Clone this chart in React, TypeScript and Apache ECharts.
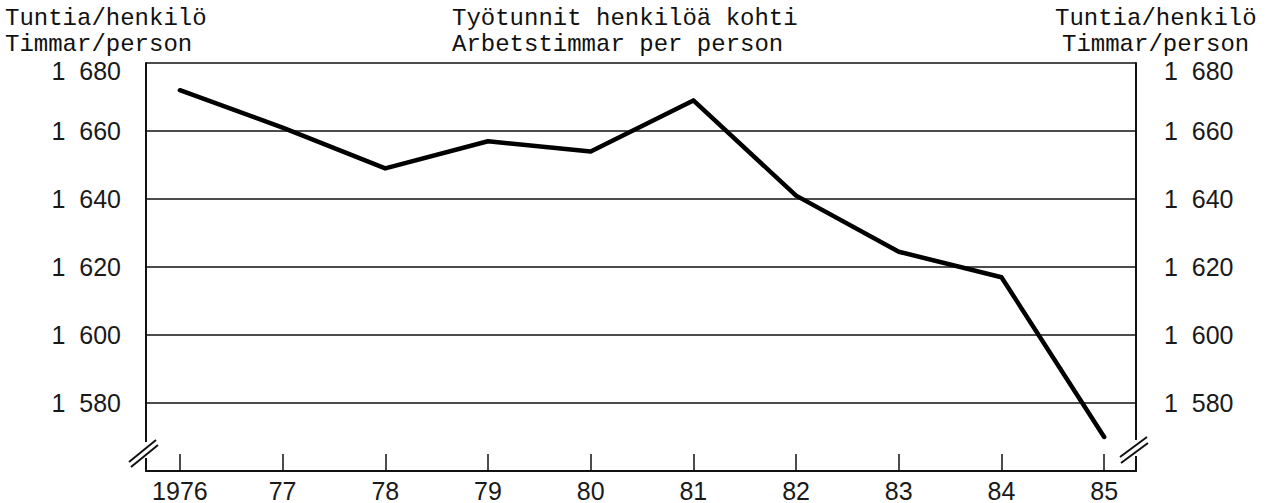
import React, { useEffect, useRef } from "react";
import * as echarts from "echarts";

const years = [1976, 1977, 1978, 1979, 1980, 1981, 1982, 1983, 1984, 1985];
const yearLabels = ["1976", "77", "78", "79", "80", "81", "82", "83", "84", "85"];
const hoursPerPerson = [1672, 1661, 1649, 1657, 1654, 1669, 1641, 1624.5, 1617, 1570];
const yTicks = [1580, 1600, 1620, 1640, 1660, 1680];

const leftTitle = ["Tuntia/henkilö", "Timmar/person"];
const centerTitle = ["Työtunnit henkilöä kohti", "Arbetstimmar per person"];
const rightTitle = ["Tuntia/henkilö", "Timmar/person"];

const MONO = '24px "Liberation Mono", "DejaVu Sans Mono", monospace';
const INK = "#111";

function fmtY(v: number) {
  if (!yTicks.includes(v)) return "";
  const s = String(v);
  const t = s.slice(0, 1) + "  " + s.slice(1);
  return v === 1680 ? "{top|" + t + "}" : "{n|" + t + "}";
}

const labelRich = {
  n: { fontFamily: '"Liberation Sans", Arial, sans-serif', fontSize: 25, color: "#1a1a1a" },
  top: {
    fontFamily: '"Liberation Sans", Arial, sans-serif',
    fontSize: 25,
    color: "#1a1a1a",
    padding: [16, 0, 0, 0],
  },
};

export default function App() {
  const ref = useRef<HTMLDivElement>(null);
  useEffect(() => {
    if (!ref.current) return;
    const chart = echarts.init(ref.current, null, { renderer: "svg" });
    const txt = (text: string, x: number, y: number) => ({
      type: "text",
      z: 100,
      style: { text, x, y, font: MONO, fill: INK, verticalAlign: "middle" },
    });
    const ln = (x1: number, y1: number, x2: number, y2: number, w = 2) => ({
      type: "line",
      z: 101,
      shape: { x1, y1, x2, y2 },
      style: { stroke: INK, lineWidth: w },
    });
    const yAxisCommon = {
      type: "value",
      min: 1560,
      max: 1680,
      interval: 20,
      axisLine: { show: true, lineStyle: { color: INK, width: 2 } },
      axisTick: { show: false },
    };
    chart.setOption({
      animation: false,
      backgroundColor: "#fff",
      grid: { left: 146, right: 137, top: 63, bottom: 32, containLabel: false, outerBoundsMode: "none" },
      xAxis: {
        type: "value",
        min: 1975.67,
        max: 1985.31,
        axisLine: { show: true, onZero: false, lineStyle: { color: INK, width: 2 } },
        axisTick: {
          show: true,
          inside: true,
          length: 17,
          customValues: years,
          lineStyle: { color: INK, width: 1.5 },
        },
        axisLabel: {
          show: true,
          customValues: years,
          margin: 7,
          fontFamily: '"Liberation Sans", Arial, sans-serif',
          fontSize: 25,
          color: "#1a1a1a",
          formatter: (v: number) => {
            const i = years.indexOf(Math.round(v));
            return i >= 0 ? yearLabels[i] : "";
          },
        },
        splitLine: { show: false },
      },
      yAxis: [
        {
          ...yAxisCommon,
          position: "left",
          axisLabel: { margin: 25, formatter: fmtY, rich: labelRich },
          splitLine: { show: true, lineStyle: { color: INK, width: 1.5 } },
        },
        {
          ...yAxisCommon,
          position: "right",
          axisLabel: { margin: 28, formatter: fmtY, rich: labelRich },
          splitLine: { show: false },
        },
      ],
      series: [
        {
          type: "line",
          yAxisIndex: 0,
          data: years.map((y, i) => [y, hoursPerPerson[i]]),
          symbol: "none",
          lineStyle: { color: "#000", width: 4.5, join: "round", cap: "round" },
          z: 5,
        },
      ],
      graphic: [
        txt(leftTitle[0], 5, 18),
        txt(leftTitle[1], 5, 44),
        txt(centerTitle[0], 452, 18),
        txt(centerTitle[1], 452, 44),
        txt(rightTitle[0], 1055, 18),
        txt(rightTitle[1], 1062, 44),
        // axis break, left
        { type: "rect", z: 99, shape: { x: 141, y: 442, width: 10, height: 16 }, style: { fill: "#fff" } },
        ln(129, 462, 156, 440),
        ln(131, 467, 158, 445),
        // axis break, right
        { type: "rect", z: 99, shape: { x: 1131, y: 440, width: 10, height: 16 }, style: { fill: "#fff" } },
        ln(1120, 457, 1147, 437),
        ln(1121, 463, 1148, 443),
      ],
    });
    return () => chart.dispose();
  }, []);
  return (
    <div
      ref={ref}
      style={{ position: "absolute", left: 0, top: 0, width: 1273, height: 503, background: "#fff" }}
    />
  );
}
